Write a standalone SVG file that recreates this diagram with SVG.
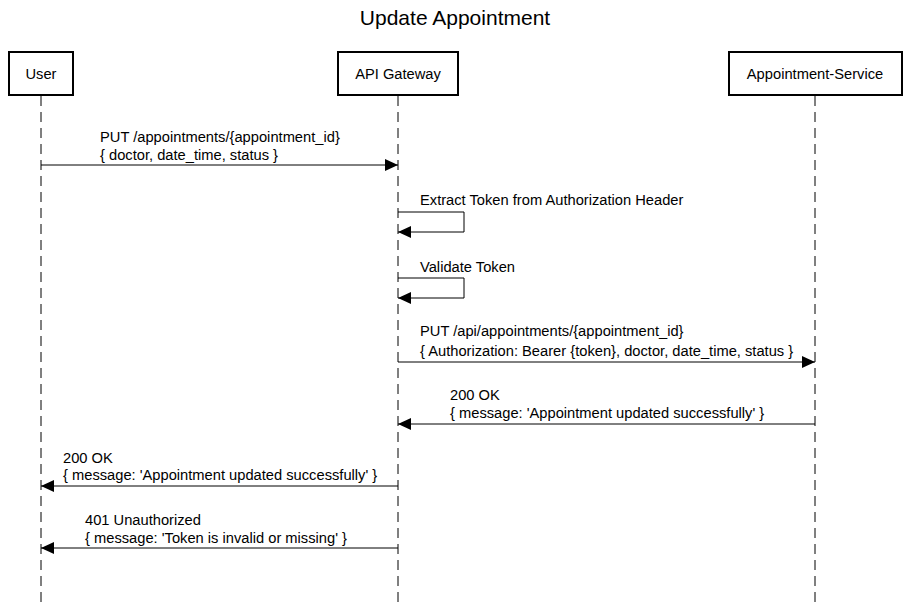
<svg xmlns="http://www.w3.org/2000/svg" width="909" height="605" viewBox="0 0 909 605">
<defs>
<marker id="ah" markerWidth="13" markerHeight="12" refX="13" refY="6" orient="auto" markerUnits="userSpaceOnUse"><path d="M0,0 L13,6 L0,12 z" fill="#000"/></marker>
</defs>
<style>
text{font-family:"Liberation Sans",Arial,sans-serif;font-size:14.7px;fill:#000}
.title{font-size:21px;text-anchor:middle}
.box{fill:#fff;stroke:#000;stroke-width:2}
.lbl{text-anchor:middle}
.life{stroke:#000;stroke-width:1;stroke-dasharray:10,6}
.msg{fill:none;stroke:#000;stroke-width:1;marker-end:url(#ah)}
</style>
<rect width="909" height="605" fill="#fff"/>
<text class="title" x="455" y="25">Update Appointment</text>
<g id="lifelines">
<line class="life" x1="41" y1="96" x2="41" y2="605"/>
<line class="life" x1="398" y1="96" x2="398" y2="605"/>
<line class="life" x1="815" y1="96" x2="815" y2="605"/>
</g>
<g id="user"><rect class="box" x="9" y="52" width="64" height="43"/><text class="lbl" x="41" y="79">User</text></g>
<g id="gateway"><rect class="box" x="338" y="52" width="120" height="43"/><text class="lbl" x="398" y="79">API Gateway</text></g>
<g id="service"><rect class="box" x="729" y="52" width="173" height="43"/><text class="lbl" x="815" y="79">Appointment-Service</text></g>
<g id="connectors">
<line class="msg" x1="41" y1="165" x2="398" y2="165"/>
<text x="100" y="142">PUT /appointments/{appointment_id}</text>
<text x="100" y="160">{ doctor, date_time, status }</text>
<polyline class="msg" points="398,212 464,212 464,232 398,232"/>
<text x="420" y="205">Extract Token from Authorization Header</text>
<polyline class="msg" points="398,278 464,278 464,298 398,298"/>
<text x="420" y="272">Validate Token</text>
<line class="msg" x1="398" y1="362" x2="815" y2="362"/>
<text x="420" y="336">PUT /api/appointments/{appointment_id}</text>
<text x="420" y="356">{ Authorization: Bearer {token}, doctor, date_time, status }</text>
<line class="msg" x1="815" y1="424" x2="398" y2="424"/>
<text x="450" y="400">200 OK</text>
<text x="450" y="418">{ message: 'Appointment updated successfully' }</text>
<line class="msg" x1="398" y1="486" x2="41" y2="486"/>
<text x="63" y="463">200 OK</text>
<text x="63" y="480">{ message: 'Appointment updated successfully' }</text>
<line class="msg" x1="398" y1="548" x2="41" y2="548"/>
<text x="85" y="525">401 Unauthorized</text>
<text x="85" y="543">{ message: 'Token is invalid or missing' }</text>
</g>
</svg>
